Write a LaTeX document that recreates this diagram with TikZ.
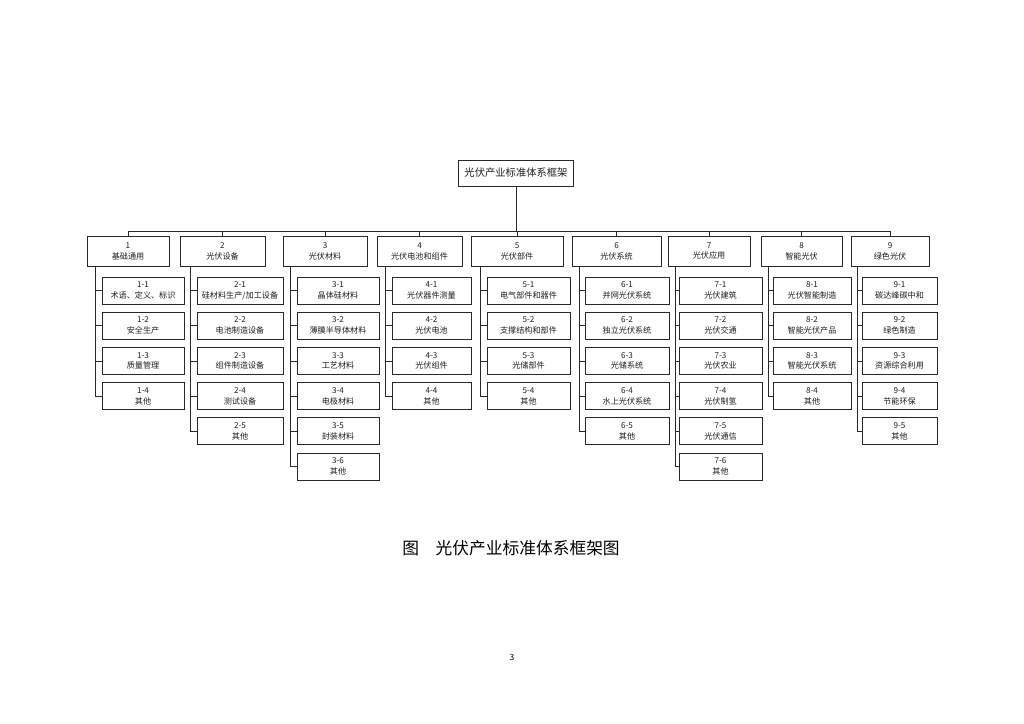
\documentclass[tikz,border=0pt]{standalone}
\usepackage{fontspec}
\setmainfont{Noto Sans CJK SC}
\usepackage{tikz}
\usetikzlibrary{positioning, calc}
\definecolor{PVline}{RGB}{40,40,40}
\definecolor{PVtext}{RGB}{30,30,30}

\begin{document}
\begin{tikzpicture}[x=0.29mm, y=-0.29mm, font=\fontsize{6.7}{9}\selectfont,
    box/.style={draw=PVline, line width=0.6pt, inner sep=0pt, align=center, text=PVtext},
    topbox/.style={box, minimum width={115*0.29mm}, minimum height={26*0.29mm}, font=\fontsize{8.5}{10}\selectfont},
    catbox/.style={box, minimum height={30*0.29mm}},
    itembox/.style={box, minimum height={27*0.29mm}},
    link/.style={draw=PVline, line width=0.6pt}]
  \useasboundingbox (0,0) rectangle (1024,724);
  % Root
  \node[topbox] (root) at (516,173) {光伏产业标准体系框架};
  \coordinate (bus) at (516,231);
  % Level 1
  \foreach \n/\cx/\w/\t in {1/128/82/基础通用, 2/222.5/85/光伏设备, 3/325/84/光伏材料,
      4/419.5/85/光伏电池和组件, 5/517/92/光伏部件, 6/616.5/89/光伏系统,
      7/709/82/光伏应用, 8/801.5/81/智能光伏, 9/890/78/绿色光伏}{
    \node[catbox, minimum width={\w*0.29mm}] (c\n) at (\cx,251) {\n\\\t};
  }
  \draw[link] (root.south) -- (bus);
  \draw[link] (c1.north |- bus) -- (c9.north |- bus);
  \foreach \n in {1,...,9} \draw[link] (c\n.north |- bus) -- (c\n.north);
  % Level 2
  \foreach \t [count=\k] in {术语、定义、标识, 安全生产, 质量管理, 其他}
    \node[itembox, minimum width={82*0.29mm}] (i1-\k) at (143,{290.5+35.2*(\k-1)}) {1-\k\\\t};
  \foreach \t [count=\k] in {硅材料生产/加工设备, 电池制造设备, 组件制造设备, 测试设备, 其他}
    \node[itembox, minimum width={86*0.29mm}] (i2-\k) at (240,{290.5+35.2*(\k-1)}) {2-\k\\\t};
  \foreach \t [count=\k] in {晶体硅材料, 薄膜半导体材料, 工艺材料, 电极材料, 封装材料, 其他}
    \node[itembox, minimum width={82*0.29mm}] (i3-\k) at (338,{290.5+35.2*(\k-1)}) {3-\k\\\t};
  \foreach \t [count=\k] in {光伏器件测量, 光伏电池, 光伏组件, 其他}
    \node[itembox, minimum width={79*0.29mm}] (i4-\k) at (431.5,{290.5+35.2*(\k-1)}) {4-\k\\\t};
  \foreach \t [count=\k] in {电气部件和器件, 支撑结构和部件, 光储部件, 其他}
    \node[itembox, minimum width={83*0.29mm}] (i5-\k) at (528.5,{290.5+35.2*(\k-1)}) {5-\k\\\t};
  \foreach \t [count=\k] in {并网光伏系统, 独立光伏系统, 光储系统, 水上光伏系统, 其他}
    \node[itembox, minimum width={84*0.29mm}] (i6-\k) at (627,{290.5+35.2*(\k-1)}) {6-\k\\\t};
  \foreach \t [count=\k] in {光伏建筑, 光伏交通, 光伏农业, 光伏制氢, 光伏通信, 其他}
    \node[itembox, minimum width={83*0.29mm}] (i7-\k) at (720.5,{290.5+35.2*(\k-1)}) {7-\k\\\t};
  \foreach \t [count=\k] in {光伏智能制造, 智能光伏产品, 智能光伏系统, 其他}
    \node[itembox, minimum width={78*0.29mm}] (i8-\k) at (812,{290.5+35.2*(\k-1)}) {8-\k\\\t};
  \foreach \t [count=\k] in {碳达峰碳中和, 绿色制造, 资源综合利用, 节能环保, 其他}
    \node[itembox, minimum width={75*0.29mm}] (i9-\k) at (899.5,{290.5+35.2*(\k-1)}) {9-\k\\\t};
  % Drops
  \foreach \n/\x/\m in {1/95/4, 2/190/5, 3/290/6, 4/385/4, 5/480/4,
      6/579/5, 7/675/6, 8/768/4, 9/857/5}{
    \coordinate (d\n) at (\x,266);
    \draw[link] (d\n) |- (i\n-\m.west);
    \foreach \k in {1,...,\m} \draw[link] (i\n-\k.west) -- (i\n-\k.west -| d\n);
  }
  % Caption
  \node[font=\fontsize{13.8}{16}\selectfont] (cap) at (511,548) {图\quad 光伏产业标准体系框架图};
  \node[font=\fontsize{7}{8}\selectfont] (page) at (512,657) {3};
\end{tikzpicture}
\end{document}
